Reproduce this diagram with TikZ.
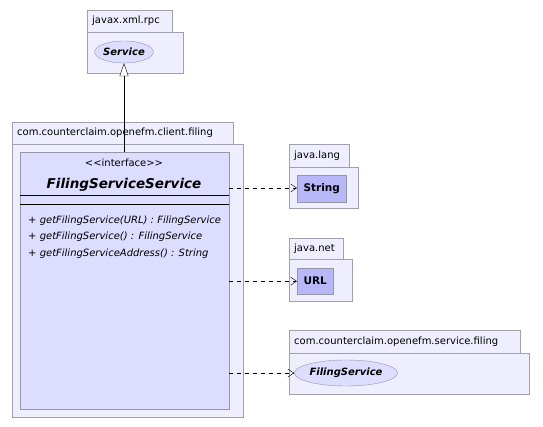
\documentclass[tikz,border=0pt]{standalone}
\usepackage{fontspec}
\setmainfont{DejaVu Sans}
\usetikzlibrary{arrows.meta,positioning,shapes.geometric}
\definecolor{pkgfill}{RGB}{238,238,254}
\definecolor{pkgline}{RGB}{160,160,176}
\definecolor{clsfill}{RGB}{221,221,255}
\definecolor{clsline}{RGB}{150,150,166}
\definecolor{typefill}{RGB}{184,184,248}

\begin{document}
\begin{tikzpicture}[x=1pt,y=-1pt,font=\fontsize{10}{12}\selectfont,
 pkgbody/.style={draw=pkgline,fill=pkgfill,anchor=north west,inner sep=0pt},
 pkgtab/.style={draw=pkgline,fill=pkgfill,anchor=north west,inner xsep=5pt,inner ysep=0pt,align=left,minimum height=22pt},
 iface/.style={ellipse,draw=clsline,fill=clsfill,inner sep=0pt,font=\fontsize{10}{12}\selectfont\bfseries\itshape},
 cls/.style={draw=clsline,fill=typefill,inner sep=0pt,font=\fontsize{10.5}{12}\selectfont\bfseries},
 op/.style={anchor=base west,inner sep=0pt,font=\fontsize{10}{12}\selectfont\itshape},
 dep/.style={-{Straight Barb[length=6pt,width=8pt]},dash pattern=on 4pt off 4pt,thin},
 gen/.style={-{Triangle[open,length=13pt,width=9pt,fill=white]},thin}]
\useasboundingbox (0,0) rectangle (543,427);
% javax.xml.rpc
\node[pkgbody,minimum width=96pt,minimum height=41pt] (rpcbody) at (87,32) {};
\node[pkgtab,text width=75pt] (rpctab) at (87,10) {javax.xml.rpc};
\node[iface,minimum width=58pt,minimum height=22pt] (service) at (124,52) {Service};
% client.filing
\node[pkgbody,minimum width=231pt,minimum height=273pt] (clientbody) at (12,144) {};
\node[pkgtab,text width=211pt] (clienttab) at (12,122) {com.counterclaim.openefm.client.filing};
\node[draw=clsline,fill=clsfill,anchor=north west,minimum width=209pt,minimum height=257pt,inner sep=0pt] (fss) at (20,152) {};
\node (stereo) at (124,163) {{<}{<}interface{>}{>}};
\node[font=\fontsize{13.5}{15}\selectfont\bfseries\itshape] (fssname) at (124,185) {FilingServiceService};
\draw (20,195) -- (229,195);
\draw (20,204) -- (229,204);
\node[op] (op1) at (28,224) {+ getFilingService(URL) : FilingService};
\node[op] (op2) at (28,240) {+ getFilingService() : FilingService};
\node[op] (op3) at (28,257) {+ getFilingServiceAddress() : String};
% java.lang
\node[pkgbody,minimum width=69pt,minimum height=41pt] (langbody) at (289,167) {};
\node[pkgtab,text width=50pt,minimum height=23pt] (langtab) at (289,144) {java.lang};
\node[cls,anchor=north west,minimum width=49pt,minimum height=27pt] (str) at (297,175) {String};
% java.net
\node[pkgbody,minimum width=63pt,minimum height=42pt] (netbody) at (289,259) {};
\node[pkgtab,text width=44pt,minimum height=21pt] (nettab) at (289,238) {java.net};
\node[cls,anchor=north west,minimum width=36pt,minimum height=26pt] (url) at (297,268) {URL};
% service.filing
\node[pkgbody,minimum width=240pt,minimum height=41pt] (sfbody) at (289,353) {};
\node[pkgtab,text width=221pt,minimum height=23pt] (sftab) at (289,330) {com.counterclaim.openefm.service.filing};
\node[iface,minimum width=98pt,minimum height=26pt] (fs) at (346,373) {FilingService};
% relations
\draw[gen] (fss.north -| service.south) -- (service.south);
\draw[dep] (fss.east |- 0,188) -- (str.west |- 0,188);
\draw[dep] (fss.east |- url.west) -- (url.west);
\draw[dep] (fss.east |- fs.west) -- (fs.west);
\end{tikzpicture}
\end{document}
